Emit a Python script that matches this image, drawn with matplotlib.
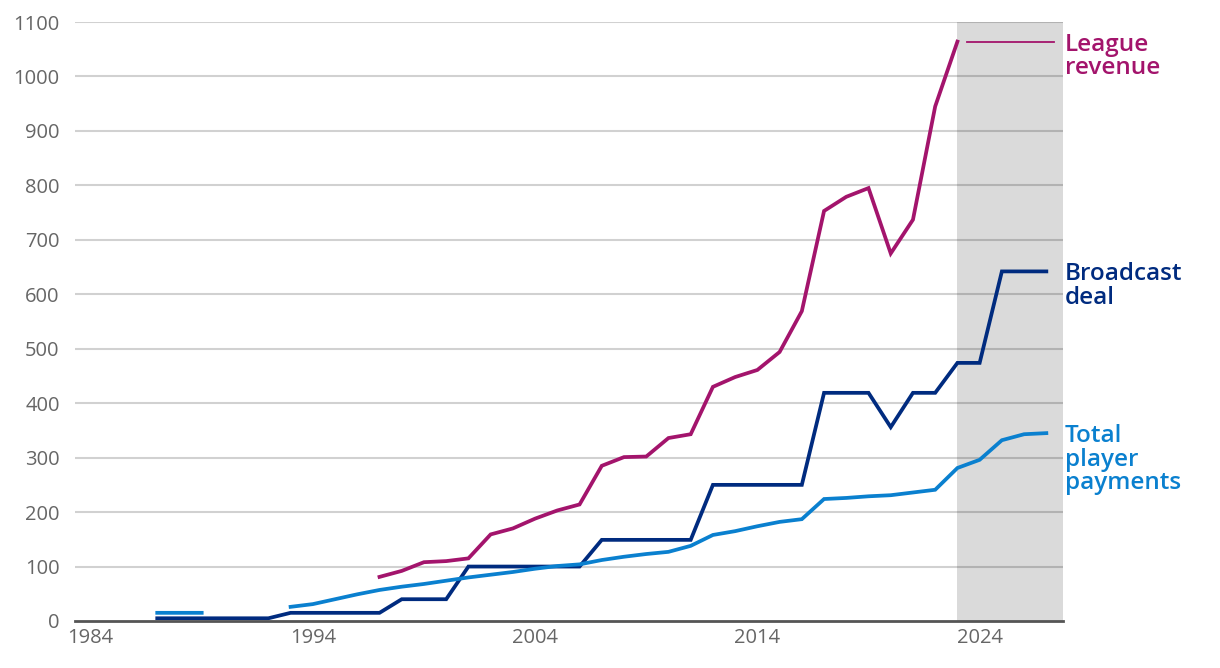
import numpy as np
import matplotlib
matplotlib.use("Agg")
import matplotlib.pyplot as plt

nan = np.nan

years = list(range(1987, 2028))

league_revenue = [nan] * 10 + [
    81, 92, 108, 110, 115, 159, 170, 188, 203, 214,
    285, 301, 302, 336, 343, 430, 448, 461, 494, 569,
    753, 779, 795, 675, 737, 945, 1064,
    nan, nan, nan, nan]

broadcast_deal = [
    5, 5, 5, 5, 5, 5, 15, 15, 15, 15,
    15, 40, 40, 40, 100, 100, 100, 100, 100, 100,
    149, 149, 149, 149, 149, 250, 250, 250, 250, 250,
    419, 419, 419, 356, 419, 419, 474, 474, 642, 642, 642]

player_payments = [
    15, 15, 15, nan, nan, nan, 26, 31, 40, 49,
    57, 63, 68, 74, 80, 85, 90, 96, 101, 104,
    112, 118, 123, 127, 138, 158, 165, 174, 182, 187,
    224, 226, 229, 231, 236, 241, 281, 296, 332, 343, 345]

series_names = ["League\nrevenue", "Broadcast\ndeal", "Total\nplayer\npayments"]
series_colors = ["#a3146c", "#002b7f", "#0a80cf"]

xticks = [1984, 1994, 2004, 2014, 2024]
yticks = list(range(0, 1101, 100))
forecast_start = 2023

plt.rcParams['font.family'] = ['Open Sans', 'DejaVu Sans']

fig = plt.figure(figsize=(12.2, 6.68), dpi=100)
ax = fig.add_axes([75 / 1220, 1 - 621 / 668, (1063 - 75) / 1220, (621 - 22) / 668])

ax.set_xlim(1983.3, 2027.75)
ax.set_ylim(0, 1100)

ax.axvspan(forecast_start, 2027.75, color="#dadada", zorder=0, lw=0)

for v in yticks[1:]:
    ax.axhline(v, color="black", alpha=0.18, lw=1.5, zorder=1)

data = [league_revenue, broadcast_deal, player_payments]
for vals, c in zip(data, series_colors):
    ax.plot(years, vals, color=c, lw=2.7, zorder=3, solid_joinstyle="miter")

# leader line from the last league revenue point to its label
last_league = [v for v in league_revenue if not np.isnan(v)][-1]
ax.plot([2023.45, 2027.35], [last_league, last_league], color=series_colors[0], lw=1.3, zorder=3)

last_vals = [last_league, broadcast_deal[-1], player_payments[-1]]
for name, c, v in zip(series_names, series_colors, last_vals):
    ax.annotate(name, xy=(1.0, v), xycoords=("axes fraction", "data"),
                xytext=(1.5, 6.5), textcoords="offset points",
                ha="left", va="top", color=c, fontsize=17.5, fontweight="semibold",
                linespacing=0.98, annotation_clip=False)

for s in ["top", "right", "left"]:
    ax.spines[s].set_visible(False)
ax.spines["bottom"].set_color("#555555")
ax.spines["bottom"].set_linewidth(2)
ax.spines["bottom"].set_zorder(4)

ax.set_xticks(xticks)
ax.set_yticks(yticks)
ax.tick_params(axis="both", length=0, labelsize=14.5, labelcolor="#666666")
ax.tick_params(axis="y", pad=11)
ax.tick_params(axis="x", pad=5)

fig.savefig("out.png", dpi=100)
